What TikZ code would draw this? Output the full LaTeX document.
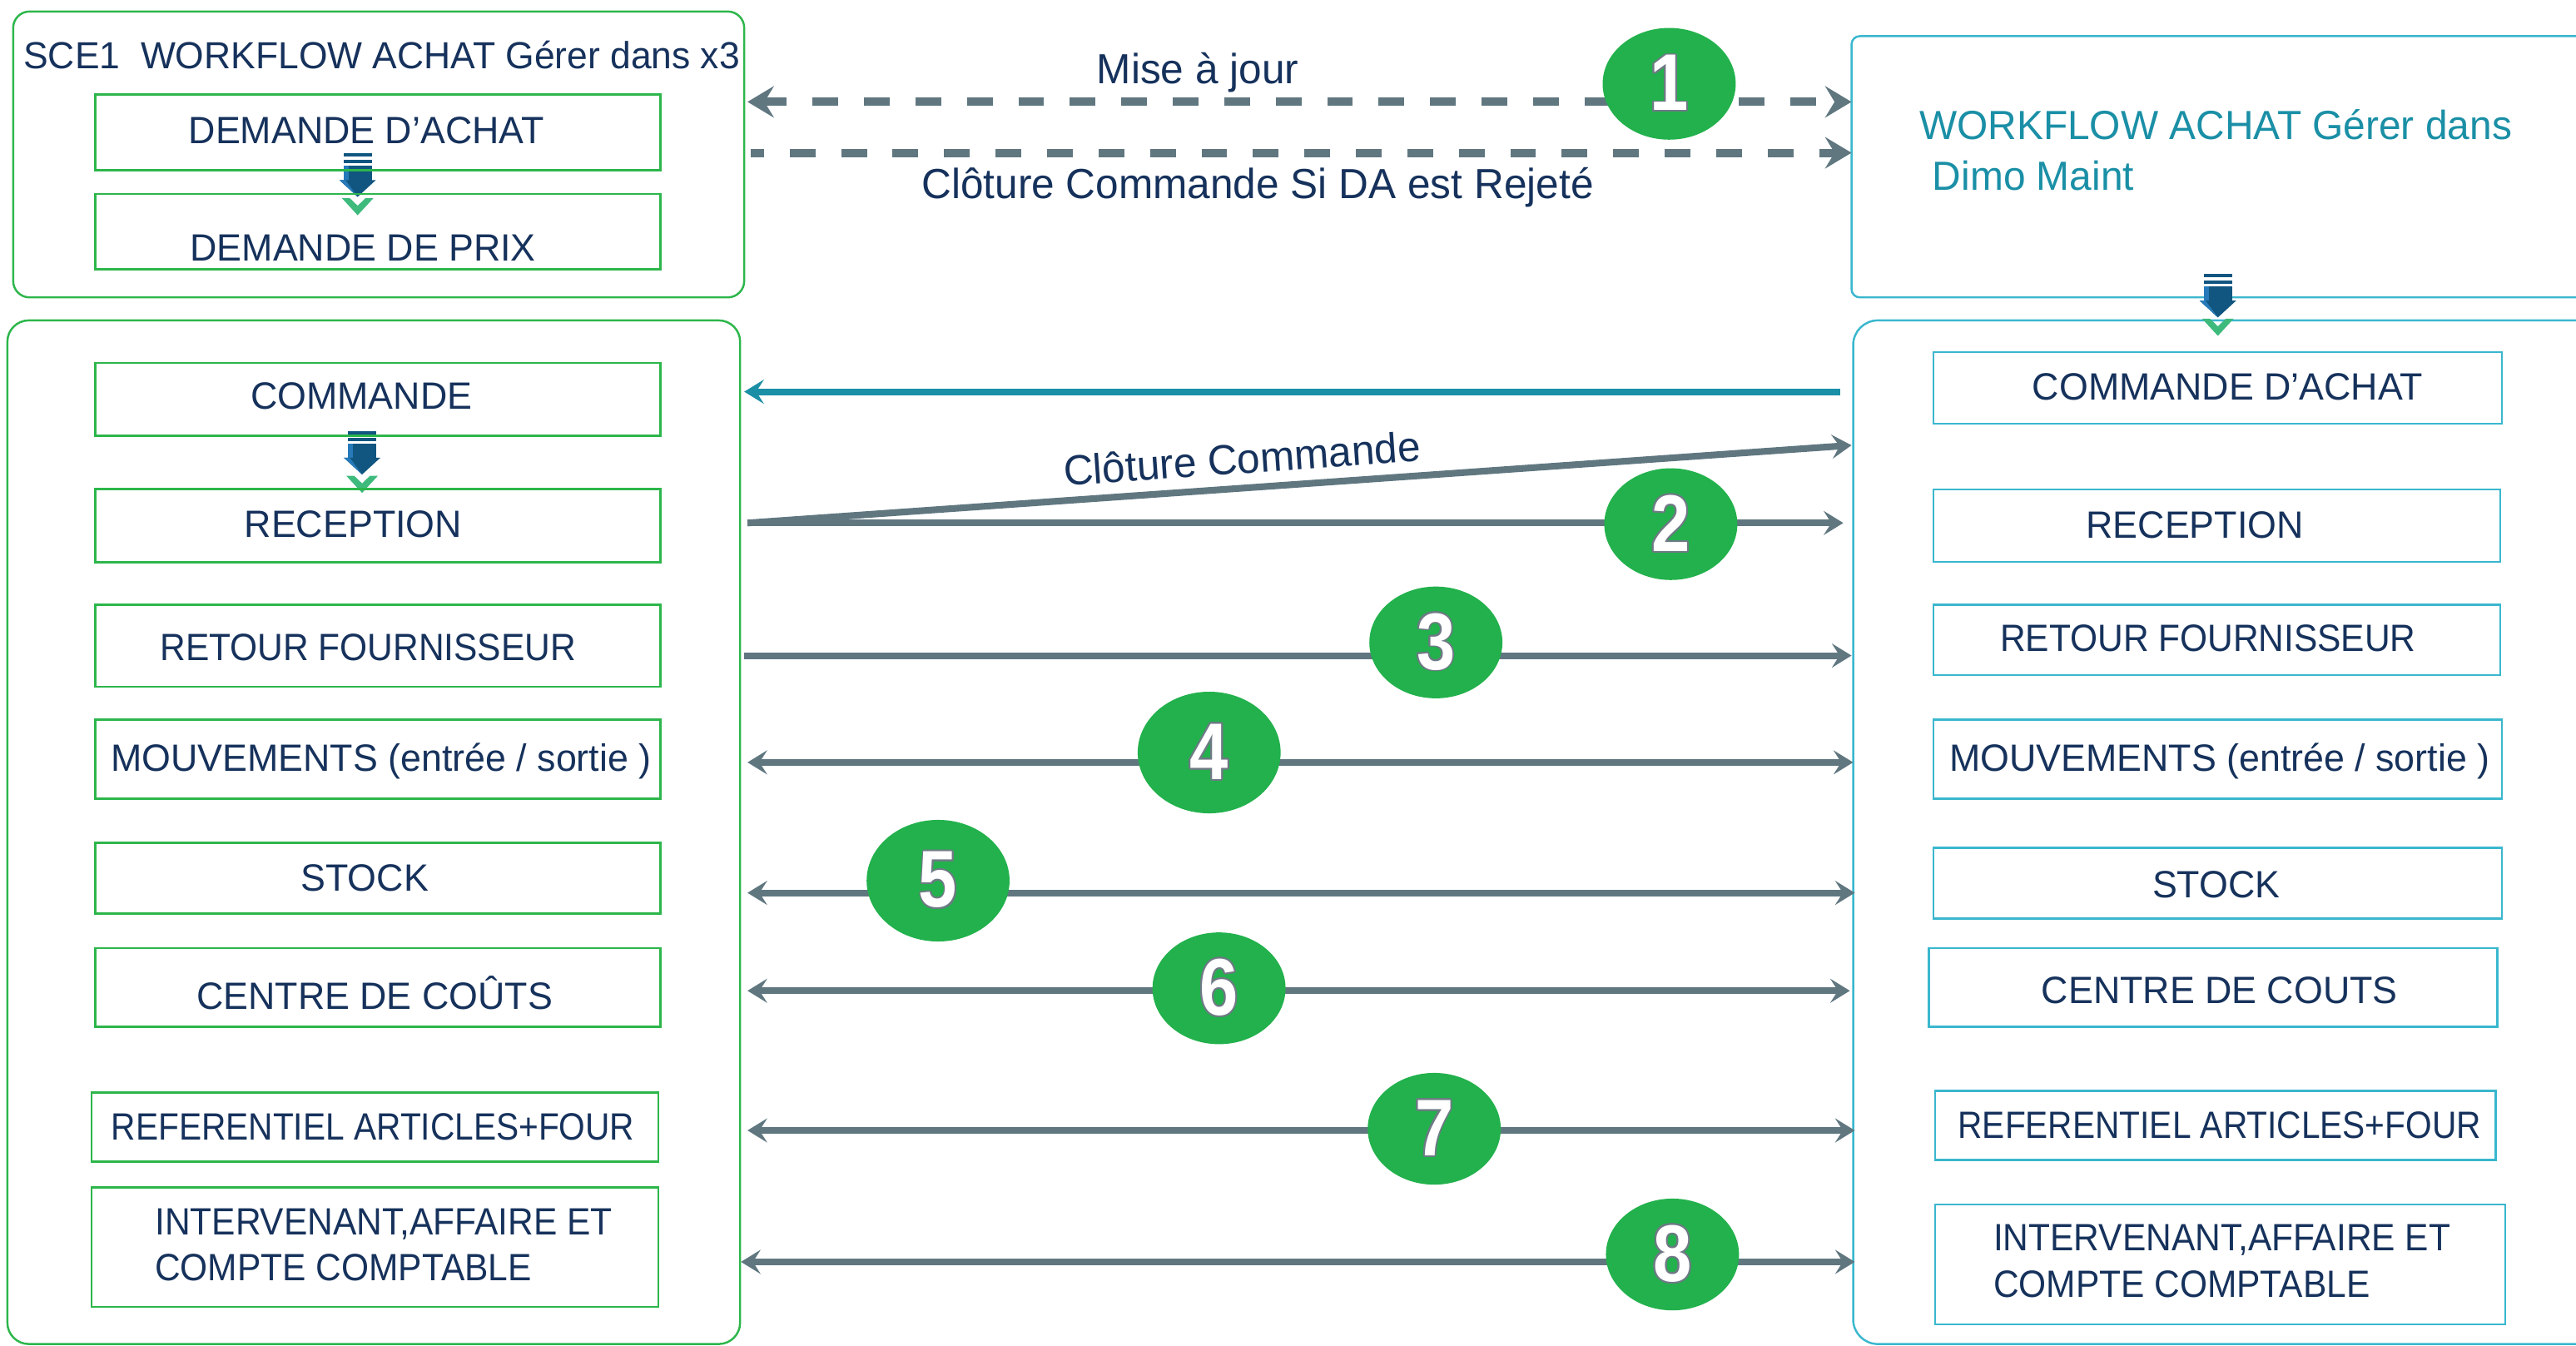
\documentclass[tikz,border=0pt]{standalone}
\usepackage{fontspec}
\setmainfont{Liberation Sans}[FakeStretch=0.98]
\newfontfamily\narrowfont{Liberation Sans}[FakeStretch=0.89]
\newfontfamily\semifont{Liberation Sans}[FakeStretch=0.93]
\newfontfamily\digitfont{Liberation Sans}[FakeStretch=0.86]
\usepackage[copies]{contour}
\contourlength{0.55pt}
\usetikzlibrary{arrows.meta,shapes.geometric}
\newlength\pxu
\setlength\pxu{0.01974cm}
\definecolor{lgreen}{RGB}{45,182,75}
\definecolor{lteal}{RGB}{58,183,206}
\definecolor{navy}{RGB}{22,50,92}
\definecolor{tealtxt}{RGB}{26,143,166}
\definecolor{arrgray}{RGB}{96,119,128}
\definecolor{badgegreen}{RGB}{34,177,76}
\definecolor{arrblue}{RGB}{17,86,128}
\definecolor{arrlight}{RGB}{38,122,186}
\definecolor{chevgreen}{RGB}{62,186,125}
\definecolor{outgray}{RGB}{110,122,132}
\newcommand\boxfont{\fontsize{13}{15.7}\selectfont}
\newcommand\ttlfont{\fontsize{12.9}{15.7}\selectfont}
\newcommand\lblfont{\fontsize{14.4}{17}\selectfont}
\newcommand\rtitlefont{\fontsize{13.9}{17}\selectfont}
\newcommand\badgefont{\digitfont\bfseries\fontsize{27.5}{28}\selectfont}
\newcommand\blockarrow[1]{%
  \begin{scope}[shift={#1}]
    \fill[arrblue] (-8.6,0) rectangle (8.6,2);
    \fill[arrblue] (-8.6,4) rectangle (8.6,6);
    \fill[arrblue] (-8.6,7.6) rectangle (8.6,16.4);
    \fill[arrlight] (-8.6,7.6) rectangle (-5.6,16.4);
    \fill[arrblue] (-11.1,16.2) -- (11.1,16.2) -- (0,26.4) -- cycle;
    \fill[arrlight] (-11.1,16.2) -- (-7.5,16.2) -- (0,26.4) -- cycle;
    \fill[chevgreen] (-9.6,27.2) -- (-4.8,27.2) -- (0,31.8) -- (4.8,27.2) -- (9.6,27.2) -- (0,37.6) -- cycle;
  \end{scope}}
\tikzset{
  tipS/.tip={Stealth[length=6.7pt,width=8.2pt,inset=2.6pt]},
  tipD/.tip={Stealth[length=9pt,width=10.7pt,inset=3.2pt]},
}
\begin{document}
\begin{tikzpicture}[x=0.01974cm,y=-0.01974cm,
  lcont/.style={draw=lgreen, line width=0.7pt, inner sep=0pt},
  rcont/.style={draw=lteal, line width=0.7pt, inner sep=0pt},
  lbox/.style={draw=lgreen, line width=0.7pt, inner sep=0pt},
  rbox/.style={draw=lteal, line width=0.7pt, inner sep=0pt},
  txt/.style={font=\boxfont, text=navy, inner sep=0pt},
  lbl/.style={font=\lblfont, text=navy, inner sep=0pt},
  flow/.style={draw=arrgray, line width=2.3pt},
  dflow/.style={draw=arrgray, line width=2.85pt, dash pattern=on 8.8pt off 8.8pt},
  tflow/.style={draw=tealtxt, line width=2.3pt},
  badge/.style={ellipse, fill=badgegreen, minimum width=81\pxu, minimum height=68\pxu, inner sep=0pt, font=\badgefont, text=white},
  bigbadge/.style={badge, minimum width=87\pxu, minimum height=74\pxu},
]
\useasboundingbox (0,0) rectangle (1568,819);
\clip (0,0) rectangle (1568,819);

% containers
\node[lcont, rounded corners=10\pxu, minimum width=445\pxu, minimum height=174\pxu] (tl) at (230.5,94) {};
\node[lcont, rounded corners=13\pxu, minimum width=446\pxu, minimum height=623\pxu] (bl) at (227.5,506.5) {};
\node[rcont, rounded corners=5\pxu, minimum width=473\pxu, minimum height=159\pxu] (tr) at (1363.5,101.5) {};
\node[rcont, rounded corners=15\pxu, minimum width=472\pxu, minimum height=623\pxu] (br) at (1364,506.5) {};

% block arrows
\blockarrow{(217.7,93.4)}
\blockarrow{(220.4,262.4)}
\blockarrow{(1350,166.8)}

% titles
\node[font=\ttlfont, text=navy, inner sep=0pt, anchor=base west] (ttl) at (14,42) {SCE1\ \ WORKFLOW ACHAT Gérer dans x3};
\node[font=\rtitlefont, text=tealtxt, inner sep=0pt, anchor=base west] (rt1) at (1168,85) {WORKFLOW ACHAT Gérer dans};
\node[font=\rtitlefont, text=tealtxt, inner sep=0pt, anchor=base west] (rt2) at (1176,116) {Dimo Maint};

% left boxes
\node[lbox, minimum width=344\pxu, minimum height=46\pxu] (da) at (230,80.5) {};
\node[lbox, minimum width=344\pxu, minimum height=46\pxu] (dp) at (230,141) {};
\node[lbox, minimum width=344\pxu, minimum height=44.5\pxu] (cmd) at (230,243) {};
\node[lbox, minimum width=344\pxu, minimum height=44.5\pxu] (rec) at (230,320) {};
\node[lbox, minimum width=344\pxu, minimum height=50\pxu] (ret) at (230,393) {};
\node[lbox, minimum width=344\pxu, minimum height=48\pxu] (mouv) at (230,462) {};
\node[lbox, minimum width=344\pxu, minimum height=43\pxu] (stk) at (230,534.5) {};
\node[lbox, minimum width=344\pxu, minimum height=48\pxu] (ctr) at (230,601) {};
\node[lbox, minimum width=345\pxu, minimum height=42\pxu] (ref) at (228.3,686) {};
\node[lbox, minimum width=345\pxu, minimum height=72.5\pxu] (int) at (228.3,759) {};

\node[txt, anchor=base] (tda) at (223,87.5) {DEMANDE D’ACHAT};
\node[txt, anchor=base] (tdp) at (221,159) {DEMANDE DE PRIX};
\node[txt, anchor=base] (tcmd) at (220,249) {COMMANDE};
\node[txt, anchor=base] (trec) at (215,327) {RECEPTION};
\node[txt, anchor=base] (tret) at (224,402) {\semifont RETOUR FOURNISSEUR};
\node[txt, anchor=base] (tmouv) at (232,469.5) {MOUVEMENTS (entrée / sortie )};
\node[txt, anchor=base] (tstk) at (222,542.5) {STOCK};
\node[txt, anchor=base] (tctr) at (228,614.5) {CENTRE DE COÛTS};
\node[txt, anchor=base] (tref) at (227,694) {\narrowfont REFERENTIEL ARTICLES+FOUR};
\node[txt, anchor=west, align=left] (tint) at (94,757.5) {\semifont INTERVENANT,AFFAIRE ET\\\semifont COMPTE COMPTABLE};

% right boxes
\node[rbox, minimum width=346\pxu, minimum height=43.5\pxu] (rca) at (1350,236) {};
\node[rbox, minimum width=345\pxu, minimum height=44\pxu] (rrec) at (1349.5,320) {};
\node[rbox, minimum width=345\pxu, minimum height=43\pxu] (rret) at (1349.5,389.5) {};
\node[rbox, minimum width=346\pxu, minimum height=48\pxu] (rmouv) at (1350,462) {};
\node[rbox, minimum width=346\pxu, minimum height=43\pxu] (rstk) at (1350,537.5) {};
\node[rbox, minimum width=346\pxu, minimum height=48\pxu] (rctr) at (1347,601) {};
\node[rbox, minimum width=341\pxu, minimum height=42\pxu] (rref) at (1348.5,685) {};
\node[rbox, minimum width=347\pxu, minimum height=73\pxu] (rint) at (1351.5,769.5) {};

\node[txt, anchor=base] (trca) at (1356,243.3) {COMMANDE D’ACHAT};
\node[txt, anchor=base] (trrec) at (1336,327.5) {RECEPTION};
\node[txt, anchor=base] (trret) at (1344,396.5) {\semifont RETOUR FOURNISSEUR};
\node[txt, anchor=base] (trmouv) at (1351,469.5) {MOUVEMENTS (entrée / sortie )};
\node[txt, anchor=base] (trstk) at (1349,546.5) {STOCK};
\node[txt, anchor=base] (trctr) at (1351,610.5) {CENTRE DE COUTS};
\node[txt, anchor=base] (trref) at (1351,693) {\narrowfont REFERENTIEL ARTICLES+FOUR};
\node[txt, anchor=west, align=left] (trint) at (1213,767.5) {\semifont INTERVENANT,AFFAIRE ET\\\semifont COMPTE COMPTABLE};

% connector end points
\coordinate (d1l) at (455,62);    \coordinate (d1r) at (1127,62);
\coordinate (d2l) at (457,93);    \coordinate (d2r) at (1127,93);
\coordinate (tcl) at (453,238.4); \coordinate (tcr) at (1120,238.4);
\coordinate (a2l) at (455,318.3); \coordinate (a2r) at (1122,318.3);
\coordinate (clr) at (1127,271);
\coordinate (a3l) at (453,399);   \coordinate (a3r) at (1127,399);
\coordinate (a4l) at (455,464);   \coordinate (a4r) at (1128,464);
\coordinate (a5l) at (455,543.4); \coordinate (a5r) at (1129,543.4);
\coordinate (a6l) at (455,603);   \coordinate (a6r) at (1126,603);
\coordinate (a7l) at (455,688);   \coordinate (a7r) at (1129,688);
\coordinate (a8l) at (451,768);   \coordinate (a8r) at (1129,768);

% connectors
\draw[dflow, tipD-tipD, dash phase=0.7pt] (d1l) -- (d1r);
\draw[dflow, -tipD, dash phase=4.3pt] (d2l) -- (d2r);
\draw[tflow, -tipS] (tcr) -- (tcl);
\draw[flow, -tipS] (a2l) -- (clr);
\draw[flow, -tipS] (a2l) -- (a2r);
\draw[flow, -tipS] (a3l) -- (a3r);
\draw[flow, tipS-tipS] (a4l) -- (a4r);
\draw[flow, tipS-tipS] (a5l) -- (a5r);
\draw[flow, tipS-tipS] (a6l) -- (a6r);
\draw[flow, tipS-tipS] (a7l) -- (a7r);
\draw[flow, tipS-tipS] (a8l) -- (a8r);

% connector labels
\node[lbl, anchor=base] (lmaj) at (729,51) {Mise à jour};
\node[lbl, anchor=base] (lrej) at (765.5,121) {Clôture Commande Si DA est Rejeté};
\node[lbl, rotate=4] (lclo) at (756,279) {Clôture Commande};

% badges
\node[badge] (b1) at (1016,51) {\contour{outgray}{1}};
\node[badge] (b2) at (1017,319) {\contour{outgray}{2}};
\node[badge] (b3) at (874,391) {\contour{outgray}{3}};
\node[bigbadge] (b4) at (736,458) {\contour{outgray}{4}};
\node[bigbadge] (b5) at (571,536) {\contour{outgray}{5}};
\node[badge] (b6) at (742,601.5) {\contour{outgray}{6}};
\node[badge] (b7) at (873,687) {\contour{outgray}{7}};
\node[badge] (b8) at (1018,763.5) {\contour{outgray}{8}};
\end{tikzpicture}
\end{document}
